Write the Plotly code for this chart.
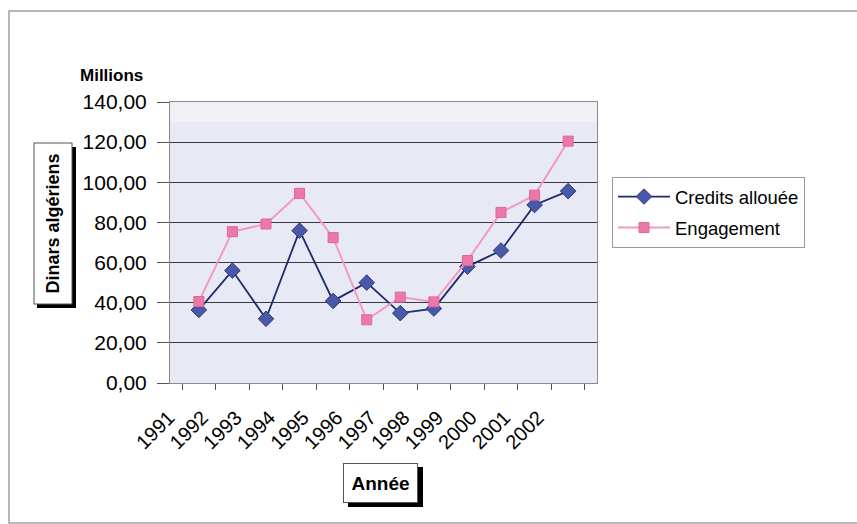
import plotly.graph_objects as go

# ---- data ----
years = ["1991", "1992", "1993", "1994", "1995", "1996",
         "1997", "1998", "1999", "2000", "2001", "2002"]
credits_allouee = [36.4, 56.0, 32.0, 75.9, 40.9, 50.0, 34.8, 37.1, 58.0, 66.0, 88.7, 95.6]
engagement = [40.6, 75.4, 79.2, 94.5, 72.4, 31.5, 42.8, 40.4, 61.0, 85.0, 93.6, 120.5]
y_tick_values = [0, 20, 40, 60, 80, 100, 120, 140]
y_tick_labels = ["0,00", "20,00", "40,00", "60,00", "80,00", "100,00", "120,00", "140,00"]

W, H = 857, 524
L, R, T, B = 170, 597, 102, 383  # plot area in pixels

def px_x(p):
    return (p - L) / (R - L)

def px_y(p):
    return (B - p) / (B - T)

FONT = "Liberation Sans, Arial, sans-serif"

fig = go.Figure()
fig.add_trace(go.Scatter(
    x=years, y=credits_allouee, name="Credits allouée", mode="lines+markers",
    line=dict(color="#1f2a6a", width=1.8),
    marker=dict(symbol="diamond", size=12, color="#4a58a8", line=dict(color="#2c3880", width=1)),
    legendgroup="a",
))
fig.add_trace(go.Scatter(
    x=years, y=engagement, name="Engagement", mode="lines+markers",
    line=dict(color="#f29bc0", width=2),
    marker=dict(symbol="square", size=10, color="#ec78a8", line=dict(color="#e0659a", width=1)),
    legendgroup="b",
))

shapes = []
# outer frame
shapes.append(dict(type="rect", xref="paper", yref="paper",
                   x0=px_x(9), x1=px_x(880), y0=px_y(523), y1=px_y(11),
                   line=dict(color="#a0a0a0", width=1.5), layer="below"))
# light top band in plot area
shapes.append(dict(type="rect", xref="paper", yref="paper",
                   x0=0, x1=1, y0=px_y(122), y1=1,
                   fillcolor="#f1f1f5", line=dict(width=0), layer="below"))
# shadows of axis title boxes
shapes.append(dict(type="rect", xref="paper", yref="paper",
                   x0=px_x(37), x1=px_x(76), y0=px_y(308), y1=px_y(147),
                   fillcolor="black", line=dict(width=0)))
shapes.append(dict(type="rect", xref="paper", yref="paper",
                   x0=px_x(348), x1=px_x(423), y0=px_y(507), y1=px_y(467),
                   fillcolor="black", line=dict(width=0)))

annotations = [
    dict(text="<b>Millions</b>", xref="paper", yref="paper", x=px_x(111), y=px_y(75),
         xanchor="center", yanchor="middle",
         showarrow=False, font=dict(family=FONT, size=17, color="black")),
    dict(text="<b>Dinars algériens</b>", xref="paper", yref="paper", x=px_x(52.5), y=px_y(224),
         xanchor="center", yanchor="middle",
         showarrow=False, textangle=-90, width=158, height=35,
         bgcolor="white", bordercolor="#555", borderwidth=1, borderpad=1,
         font=dict(family=FONT, size=18, color="black")),
    dict(text="<b>Année</b>", xref="paper", yref="paper", x=px_x(380.5), y=px_y(483),
         xanchor="center", yanchor="middle",
         showarrow=False, width=71, height=36,
         bgcolor="white", bordercolor="#555", borderwidth=1, borderpad=1,
         font=dict(family=FONT, size=19, color="black")),
]

fig.update_layout(
    width=W, height=H,
    margin=dict(l=L, r=W - R, t=T, b=H - B),
    paper_bgcolor="white",
    plot_bgcolor="#e7e9f4",
    font=dict(family=FONT, color="black"),
    shapes=shapes,
    annotations=annotations,
    showlegend=True,
    legend=dict(x=px_x(612), y=px_y(177), xanchor="left", yanchor="top",
                bordercolor="#999", borderwidth=1, bgcolor="white",
                font=dict(family=FONT, size=18.5, color="black"),
                tracegroupgap=4, itemwidth=52, entrywidth=162),
)
fig.update_xaxes(
    type="category", tickson="boundaries", ticks="outside", ticklen=6,
    tickcolor="#555", tickangle=-45, showgrid=False,
    showline=True, linecolor="#8a8a8a", linewidth=1, mirror=True,
    tickfont=dict(family=FONT, size=20, color="black"),
    ticklabelshift=-30, ticklabelstandoff=14,
)
fig.update_yaxes(
    range=[0, 140], tickvals=y_tick_values, ticktext=y_tick_labels,
    ticks="outside", ticklen=12, tickcolor="#555",
    showgrid=True, gridcolor="#3a3a3a", gridwidth=1,
    showline=True, linecolor="#8a8a8a", linewidth=1, mirror=True,
    zeroline=False,
    tickfont=dict(family=FONT, size=21, color="black"),
    ticklabelstandoff=6,
)

fig.write_html("out.html", config={"displayModeBar": False},
               post_script="document.body.style.margin='0';")
